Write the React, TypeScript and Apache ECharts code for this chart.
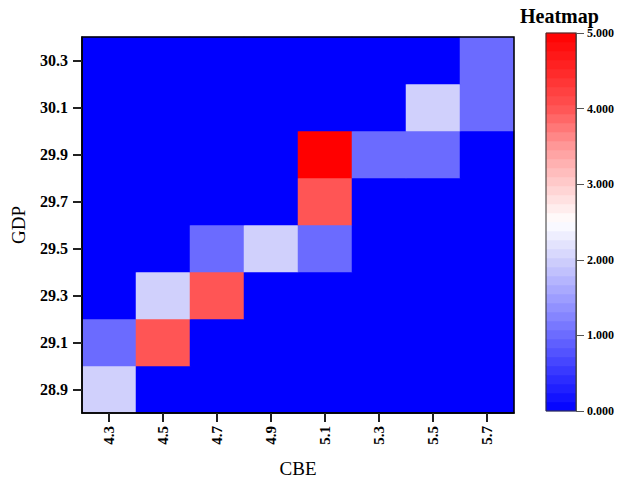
import React, { useEffect, useRef } from "react";
import * as echarts from "echarts";

const cbeLabels = ["4.3", "4.5", "4.7", "4.9", "5.1", "5.3", "5.5", "5.7"];
const gdpLabels = ["28.9", "29.1", "29.3", "29.5", "29.7", "29.9", "30.1", "30.3"];

// one array per GDP row (bottom to top), values per CBE column
const row289 = [2, 0, 0, 0, 0, 0, 0, 0];
const row291 = [1, 4, 0, 0, 0, 0, 0, 0];
const row293 = [0, 2, 4, 0, 0, 0, 0, 0];
const row295 = [0, 0, 1, 2, 1, 0, 0, 0];
const row297 = [0, 0, 0, 0, 4, 0, 0, 0];
const row299 = [0, 0, 0, 0, 5, 1, 1, 0];
const row301 = [0, 0, 0, 0, 0, 0, 2, 1];
const row303 = [0, 0, 0, 0, 0, 0, 0, 1];
const rows = [row289, row291, row293, row295, row297, row299, row301, row303];

const legendMin = 0;
const legendMax = 5;
const legendBands = 42;

const FONT = "'Liberation Serif', 'Times New Roman', serif";

export default function App() {
  const ref = useRef<HTMLDivElement>(null);
  useEffect(() => {
    if (!ref.current) return;
    const chart = echarts.init(ref.current, undefined, { renderer: "svg" });

    const heatData: number[][] = [];
    rows.forEach((r, yi) => r.forEach((v, xi) => heatData.push([xi, yi, v])));

    const bandCats: string[] = [];
    const bandData: number[][] = [];
    for (let i = 0; i < legendBands; i++) {
      bandCats.push(String(i));
      bandData.push([0, i, legendMin + ((i + 0.5) * (legendMax - legendMin)) / legendBands]);
    }

    chart.setOption({
      animation: false,
      textStyle: { fontFamily: FONT },
      title: {
        text: "Heatmap",
        left: 515,
        top: 1,
        textStyle: { fontFamily: FONT, fontSize: 20, fontWeight: "bold", color: "#000" },
      },
      visualMap: {
        type: "continuous",
        show: false,
        min: legendMin,
        max: legendMax,
        seriesIndex: [0, 1],
        inRange: {
          color: [
            "#0000ff",
            "#3535ff",
            "#6b6bff",
            "#9e9eff",
            "#d0d0fc",
            "#ffffff",
            "#ffcdcd",
            "#ff9999",
            "#ff5555",
            "#ff2828",
            "#ff0000",
          ],
        },
      },
      grid: [
        {
          left: 82,
          top: 37,
          width: 432,
          height: 376,
          show: true,
          z: 5,
          borderColor: "#000",
          borderWidth: 1.5,
          backgroundColor: "transparent",
          outerBoundsMode: "none",
          containLabel: false,
        },
        {
          left: 546,
          top: 33,
          width: 30,
          height: 378,
          show: true,
          z: 5,
          borderColor: "#333",
          borderWidth: 1,
          backgroundColor: "transparent",
          outerBoundsMode: "none",
          containLabel: false,
        },
      ],
      xAxis: [
        {
          type: "category",
          gridIndex: 0,
          z: 6,
          data: cbeLabels,
          name: "CBE",
          nameLocation: "middle",
          nameGap: 46,
          nameTextStyle: { fontFamily: FONT, fontSize: 19, color: "#000" },
          axisLine: { show: true, lineStyle: { color: "#000", width: 1.5 } },
          axisTick: {
            show: true,
            inside: false,
            alignWithLabel: true,
            interval: 0,
            length: 9,
            lineStyle: { color: "#222", width: 2 },
          },
          axisLabel: {
            rotate: 90,
            margin: 13,
            fontFamily: FONT,
            fontSize: 15,
            fontWeight: "bold",
            color: "#000",
          },
          splitLine: { show: false },
        },
        {
          type: "category",
          gridIndex: 1,
          data: [""],
          show: false,
        },
      ],
      yAxis: [
        {
          type: "category",
          gridIndex: 0,
          z: 6,
          data: gdpLabels,
          name: "GDP",
          nameLocation: "middle",
          nameGap: 54,
          nameTextStyle: { fontFamily: FONT, fontSize: 19, color: "#000" },
          axisLine: { show: true, lineStyle: { color: "#000", width: 1.5 } },
          axisTick: {
            show: true,
            inside: false,
            alignWithLabel: true,
            interval: 0,
            length: 9,
            lineStyle: { color: "#222", width: 2 },
          },
          axisLabel: {
            margin: 14,
            fontFamily: FONT,
            fontSize: 16,
            fontWeight: "bold",
            color: "#000",
          },
          splitLine: { show: false },
        },
        {
          type: "category",
          gridIndex: 1,
          data: bandCats,
          show: false,
        },
        {
          type: "value",
          gridIndex: 1,
          z: 6,
          position: "right",
          min: legendMin,
          max: legendMax,
          interval: 1,
          axisLine: { show: true, lineStyle: { color: "#555" } },
          axisTick: { show: true, length: 8, lineStyle: { color: "#555" } },
          axisLabel: {
            margin: 11,
            fontFamily: FONT,
            fontSize: 12,
            fontWeight: "bold",
            color: "#000",
            formatter: (v: number) => v.toFixed(3),
          },
          splitLine: { show: false },
        },
      ],
      series: [
        {
          type: "heatmap",
          xAxisIndex: 0,
          yAxisIndex: 0,
          z: 1,
          data: heatData,
          itemStyle: { borderWidth: 0 },
          emphasis: { disabled: true },
        },
        {
          type: "heatmap",
          xAxisIndex: 1,
          yAxisIndex: 1,
          z: 1,
          data: bandData,
          itemStyle: { borderWidth: 0 },
          emphasis: { disabled: true },
        },
      ],
    });
    return () => chart.dispose();
  }, []);
  return (
    <div
      ref={ref}
      style={{ position: "absolute", left: 0, top: 0, width: 622, height: 481 }}
    />
  );
}
